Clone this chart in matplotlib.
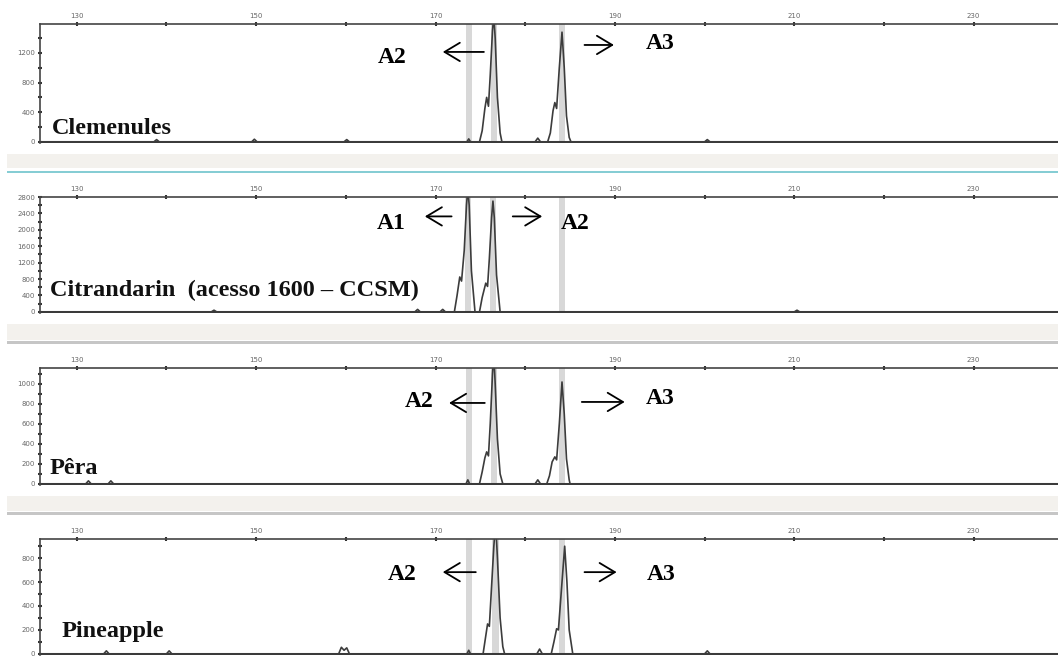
import matplotlib
matplotlib.use("Agg")
import matplotlib.pyplot as plt
from matplotlib.patches import Rectangle
from matplotlib.ticker import FixedLocator, MultipleLocator

# ---------------- DATA ----------------
samples = ["Clemenules", "Citrandarin  (acesso 1600 \u2013 CCSM)", "P\u00eara", "Pineapple"]

# size (bp) / fluorescence traces
clem_x = [125.9, 138.6, 138.9, 139.2, 149.5, 149.8, 150.1, 159.8, 160.1, 160.4,
          173.5, 173.7, 173.9, 174.9, 175.2, 175.5, 175.7, 175.9, 176.1, 176.35,
          176.5, 176.65, 176.9, 177.2, 177.4, 181.1, 181.4, 181.7, 182.5, 182.8,
          183.1, 183.3, 183.5, 183.8, 184.1, 184.35, 184.6, 184.9, 185.1, 200.0,
          200.3, 200.6, 239.4]
clem_y = [0, 0, 30, 0, 0, 35, 0, 0, 30, 0,
          0, 40, 0, 0, 150, 450, 600, 480, 900, 1500,
          1700, 1400, 600, 120, 0, 0, 50, 0, 0, 120,
          420, 530, 450, 1000, 1480, 1000, 350, 60, 0, 0,
          30, 0, 0]

citr_x = [125.9, 145.0, 145.3, 145.6, 167.7, 168.0, 168.3, 170.5, 170.8, 171.1,
          172.1, 172.4, 172.7, 172.9, 173.2, 173.45, 173.6, 173.75, 174.0, 174.4,
          174.9, 175.2, 175.6, 175.8, 176.0, 176.25, 176.4, 176.55, 176.8, 177.2,
          210.0, 210.3, 210.6, 239.4]
citr_y = [0, 0, 40, 0, 0, 60, 0, 0, 60, 0,
          0, 400, 850, 750, 1500, 2600, 3000, 2600, 1000, 0,
          0, 350, 700, 620, 1300, 2300, 2700, 2300, 900, 0,
          0, 40, 0, 0]

pera_x = [125.9, 131.0, 131.3, 131.6, 133.5, 133.8, 134.1, 173.4, 173.6, 173.8,
          174.9, 175.2, 175.5, 175.7, 175.9, 176.1, 176.35, 176.5, 176.65, 176.9,
          177.2, 177.5, 181.1, 181.4, 181.7, 182.4, 182.7, 183.0, 183.3, 183.5,
          183.8, 184.1, 184.35, 184.6, 184.9, 185.0, 239.4]
pera_y = [0, 0, 30, 0, 0, 30, 0, 0, 40, 0,
          0, 120, 260, 320, 280, 600, 1100, 1300, 1000, 450,
          100, 0, 0, 40, 0, 0, 80, 220, 270, 240,
          600, 1020, 700, 250, 40, 0, 0]

pine_x = [125.9, 133.0, 133.3, 133.6, 140.0, 140.3, 140.6, 159.2, 159.5, 159.8,
          160.1, 160.4, 173.5, 173.7, 173.9, 175.3, 175.6, 175.8, 176.0, 176.2,
          176.5, 176.7, 176.9, 177.2, 177.5, 177.7, 181.3, 181.6, 181.9, 182.9,
          183.2, 183.5, 183.7, 184.0, 184.4, 184.65, 184.9, 185.3, 200.0, 200.3,
          200.6, 239.4]
pine_y = [0, 0, 25, 0, 0, 25, 0, 0, 55, 30,
          50, 0, 0, 30, 0, 0, 150, 250, 230, 500,
          900, 1100, 800, 300, 60, 0, 0, 40, 0, 0,
          100, 210, 200, 500, 900, 600, 200, 0, 0, 25,
          0, 0]

traces_x = [clem_x, citr_x, pera_x, pine_x]
traces_y = [clem_y, citr_y, pera_y, pine_y]

# size bins highlighted in grey
bins = [[173.7, 176.5, 184.1],
        [173.6, 176.4, 184.1],
        [173.7, 176.5, 184.1],
        [173.7, 176.7, 184.1]]

ymax = [1590, 2800, 1160, 960]
ymajor = [400, 400, 200, 200]
yminor = [200, 200, 100, 100]
xticks = [130, 150, 170, 190, 210, 230]

# allele annotations: (left label, right label)
alleles = [("A2", "A3"), ("A1", "A2"), ("A2", "A3"), ("A2", "A3")]
# --------------------------------------

W, H = 1058, 658
fig = plt.figure(figsize=(W / 100, H / 100), dpi=100)
fig.patch.set_facecolor("white")

def px_axes(left, top, right, bottom):
    return fig.add_axes([left / W, 1 - bottom / H, (right - left) / W, (bottom - top) / H])

tops = [24, 197, 368, 539]
bottoms = [143, 313, 485, 655]

# annotation layout per panel: text/arrow positions (x in bp, y in data units)
left_txt = [(165.2, 1133), (165.1, 2158), (168.2, 820), (166.3, 667)]
left_arr = [((175.7, 1213), (170.5, 1213)), ((172.1, 2327), (168.5, 2327)),
            ((175.8, 810), (171.2, 810)), ((174.8, 683), (170.5, 683))]
right_arr = [((186.3, 1307), (190.2, 1307)), ((178.3, 2327), (182.2, 2327)),
             ((186.0, 820), (191.4, 820)), ((186.3, 683), (190.5, 683))]
right_txt = [(195.0, 1333), (185.6, 2158), (195.0, 850), (195.2, 667)]
name_pos = [(127.2, 107), (127.0, 388), (127.0, 100), (128.3, 142)]

serif = ["Liberation Serif", "DejaVu Serif"]

for i in range(4):
    ax = px_axes(40, tops[i], W, bottoms[i])
    for b in bins[i]:
        ax.axvspan(b - 0.35, b + 0.35, color="#d8d8d8", lw=0, zorder=0)
    ax.axhline(0, color="#3a3a3a", lw=2.2, zorder=1)
    ax.plot(traces_x[i], traces_y[i], color="#3c3c3c", lw=1.2, zorder=2)
    ax.set_xlim(125.9, 239.4)
    ax.set_ylim(-ymax[i] * 0.01, ymax[i])

    for s in ["right", "bottom"]:
        ax.spines[s].set_visible(False)
    for s in ["top", "left"]:
        ax.spines[s].set_color("#444444")
        ax.spines[s].set_linewidth(1.2)

    ax.xaxis.tick_top()
    ax.xaxis.set_major_locator(FixedLocator(xticks))
    ax.xaxis.set_minor_locator(MultipleLocator(10))
    ax.yaxis.set_major_locator(MultipleLocator(ymajor[i]))
    ax.yaxis.set_minor_locator(MultipleLocator(yminor[i]))
    ax.tick_params(axis="both", which="both", direction="inout", length=3,
                   width=1.5, color="#333333", labelsize=5, labelcolor="#666666", pad=2)

    arrow = dict(arrowstyle="->,head_length=0.5,head_width=0.3", lw=1.3,
                 color="black", mutation_scale=22)
    ax.annotate("", xy=left_arr[i][1], xytext=left_arr[i][0], arrowprops=arrow)
    ax.annotate("", xy=right_arr[i][1], xytext=right_arr[i][0], arrowprops=arrow)
    ax.text(*left_txt[i], alleles[i][0], ha="center", va="center", fontsize=17,
            fontweight="bold", family=serif)
    ax.text(*right_txt[i], alleles[i][1], ha="center", va="center", fontsize=17,
            fontweight="bold", family=serif)
    ax.text(*name_pos[i], samples[i], ha="left", va="baseline", fontsize=17.5,
            fontweight="bold", family=serif, color="#111111")

# separators between panels
def band(y0, y1, color):
    fig.add_artist(Rectangle((7 / W, 1 - y1 / H), (W - 7) / W, (y1 - y0) / H,
                             transform=fig.transFigure, color=color, lw=0))

band(154, 168, "#f3f1ed")
band(171, 173.5, "#86cdd4")
band(324, 340, "#f3f1ed")
band(341, 343.5, "#c6c6c6")
band(496, 511, "#f3f1ed")
band(512, 514.5, "#c6c6c6")

fig.savefig("out.png", dpi=100)
